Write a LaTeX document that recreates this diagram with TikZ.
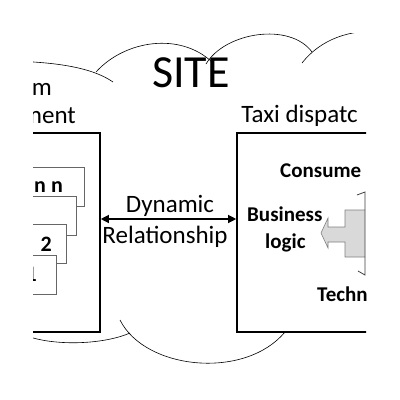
\documentclass[tikz,border=0pt]{standalone}
\usepackage{fontspec}
\setmainfont{Carlito}
\usetikzlibrary{arrows.meta, positioning}

\begin{document}
\begin{tikzpicture}[
    x=1pt, y=-1pt,
    frame/.style={rectangle, draw, line width=1.6pt, fill=white, minimum height=199pt},
    card/.style={rectangle, draw=black!60, line width=0.6pt, fill=white,
                 minimum width=90pt, minimum height=39pt, anchor=north east},
    cardlabel/.style={font=\fontsize{22}{26}\selectfont\bfseries, anchor=east, inner sep=0pt},
    heading/.style={font=\fontsize{25}{30}\selectfont, inner sep=0pt},
    part/.style={font=\fontsize{21}{25}\selectfont\bfseries, inner sep=0pt, anchor=base west},
    relarrow/.style={{Triangle[length=8pt,width=8pt]}-{Triangle[length=8pt,width=8pt]}, line width=1.2pt},
    cloudline/.style={line width=0.6pt}
]
\useasboundingbox (0,0) rectangle (400,400);
\clip (33,33) rectangle (366,366);

% cloud behind everything
\draw[cloudline] (10,61) .. controls (50,62) and (90,66) .. (113,82);
\draw[cloudline] (96,72) .. controls (125,40) and (180,32) .. (212,62);
\draw[cloudline] (206,64) .. controls (225,32) and (290,22) .. (312,52);
\draw[cloudline] (302,63) .. controls (320,40) and (350,28) .. (385,32);
\draw[cloudline] (20,333) .. controls (45,346) and (100,346) .. (130,333);
\draw[cloudline] (120,320) .. controls (145,370) and (245,380) .. (285,332);

\node[font=\fontsize{46}{50}\selectfont, inner sep=0pt] (site) at (191,73) {SITE};

% the two boxes
\node[frame, minimum width=130pt] (mgmt) at (35,232.5) {};
\node[frame, minimum width=200pt] (dispatch) at (337,232.5) {};

\node[heading, anchor=base east] (mgmttop) at (52,95) {m};
\node[heading, anchor=base east] (mgmtbot) at (76,123) {ment};
\node[heading, anchor=base west] (dispatchtitle) at ([xshift=5pt, yshift=10pt]dispatch.north west) {Taxi dispatc};

% stacked cards, back to front
\foreach \name/\right/\top in {cardn/85/167, cardc/77/196, cardb/67/224, carda/57/255}
  \node[card] (\name) at (\right,\top) {};
\node[cardlabel] (labeln) at ([xshift=-22pt]cardn.east) {n n};
\node[cardlabel] (labelb) at ([xshift=-15pt]cardb.east) {2};
\node[cardlabel] (labela) at ([xshift=-20pt]carda.east) {1};

% relationship
\draw[relarrow] ([yshift=13.5pt]mgmt.east) -- ([yshift=13.5pt]dispatch.west);
\node[heading, anchor=base] (dyn) at (170,212) {Dynamic};
\node[heading, anchor=base] (rel) at (165,243) {Relationship};

% inside the dispatch box
\node[part] (consumer) at (280,177) {Consume};
\node[part] (business) at (247,221) {Business};
\node[part] (logic) at (265,248) {logic};
\node[part] (tech) at (317,301) {Techn};

\draw[fill=black!15, draw=black!50, line width=0.6pt]
  (365,210) -- (345,210) -- (345,227) -- (328,227) -- (328,218) -- (321,233)
  -- (328,248) -- (328,242) -- (345,242) -- (345,257) -- (365,257);
\draw[black!75, line width=0.8pt] (357,195) -- (365,192) -- (365,275) -- (358,271);
\end{tikzpicture}
\end{document}
